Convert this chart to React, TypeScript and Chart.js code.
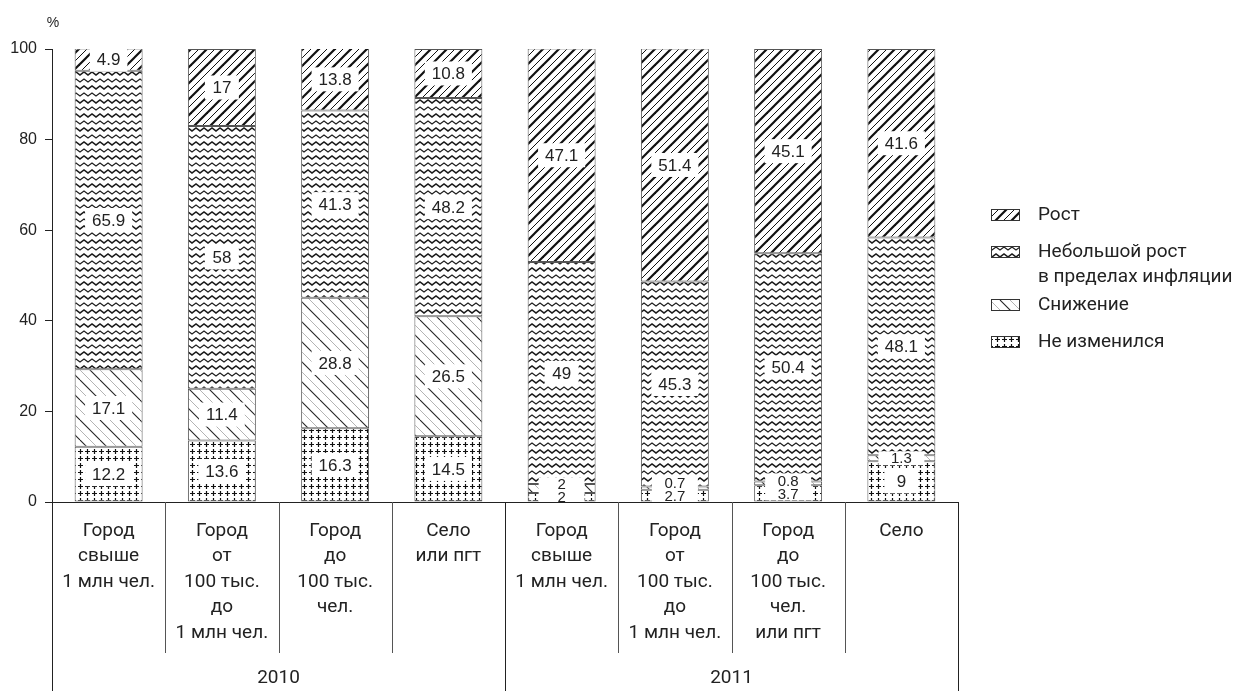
import { useEffect, useRef } from "react";
import { Chart, registerables } from "chart.js";

Chart.register(...registerables);

// Settlement types, two survey years with four groups each
const categories: string[][] = [
  ["Город", "свыше", "1 млн чел."],
  ["Город", "от", "100 тыс.", "до", "1 млн чел."],
  ["Город", "до", "100 тыс.", "чел."],
  ["Село", "или пгт"],
  ["Город", "свыше", "1 млн чел."],
  ["Город", "от", "100 тыс.", "до", "1 млн чел."],
  ["Город", "до", "100 тыс.", "чел.", "или пгт"],
  ["Село"],
];
const years = ["2010", "2011"];
const groupsPerYear = 4;

// Shares, %, stacked from the bottom up
const unchanged = [12.2, 13.6, 16.3, 14.5, 2, 2.7, 3.7, 9];
const decline = [17.1, 11.4, 28.8, 26.5, 2, 0.7, 0.8, 1.3];
const slightGrowth = [65.9, 58, 41.3, 48.2, 49, 45.3, 50.4, 48.1];
const growth = [4.9, 17, 13.8, 10.8, 47.1, 51.4, 45.1, 41.6];

const seriesNames = ["Не изменился", "Снижение", "Небольшой рост в пределах инфляции", "Рост"];
const legendLines: string[][] = [
  ["Рост"],
  ["Небольшой рост", "в пределах инфляции"],
  ["Снижение"],
  ["Не изменился"],
];
const yTicks = [0, 20, 40, 60, 80, 100];
const unitLabel = "%";

const LABEL_FONT = "Roboto, 'Noto Sans', sans-serif";
const NUM_FONT = "'Liberation Sans', Arial, sans-serif";
const INK = "#222";

function makeTile(w: number, h: number, draw: (c: CanvasRenderingContext2D) => void): CanvasPattern {
  const cv = document.createElement("canvas");
  cv.width = w;
  cv.height = h;
  const c = cv.getContext("2d")!;
  c.fillStyle = "#fff";
  c.fillRect(0, 0, w, h);
  draw(c);
  return c.createPattern(cv, "repeat")!;
}

function buildPatterns() {
  // "/" hatching, thick and thin lines alternating
  const growthPat = makeTile(16, 16, (c) => {
    c.strokeStyle = "#111";
    c.lineCap = "square";
    for (const [k, lw] of [[0, 2.2], [8, 1], [16, 2.2], [24, 1], [32, 2.2]] as [number, number][]) {
      c.lineWidth = lw;
      c.beginPath();
      c.moveTo(k - 16, 16);
      c.lineTo(k, 0);
      c.stroke();
    }
  });
  // zigzag rows, a heavier and a lighter one in turn
  const zigPat = makeTile(8, 14, (c) => {
    c.strokeStyle = "#1a1a1a";
    for (const [off, lw] of [[0, 1.5], [7, 1.1]] as [number, number][]) {
      c.lineWidth = lw;
      c.beginPath();
      c.moveTo(-4, 2 + off);
      c.lineTo(0, 5 + off);
      c.lineTo(4, 2 + off);
      c.lineTo(8, 5 + off);
      c.lineTo(12, 2 + off);
      c.stroke();
    }
  });
  // "\" hatching, dark and grey alternating
  const declinePat = makeTile(20, 20, (c) => {
    for (const [k, lw, col] of [[-20, 1.1, "#222"], [-10, 0.9, "#aaa"], [0, 1.1, "#222"], [10, 0.9, "#aaa"], [20, 1.1, "#222"]] as [number, number, string][]) {
      c.strokeStyle = col;
      c.lineWidth = lw;
      c.beginPath();
      c.moveTo(k, 0);
      c.lineTo(k + 20, 20);
      c.stroke();
    }
  });
  // small crosses
  const crossPat = makeTile(7, 7, (c) => {
    c.strokeStyle = "#111";
    c.lineWidth = 1.2;
    c.beginPath();
    c.moveTo(1, 3.5);
    c.lineTo(6, 3.5);
    c.moveTo(3.5, 1);
    c.lineTo(3.5, 6);
    c.stroke();
  });
  return { growthPat, zigPat, declinePat, crossPat };
}

export default function App() {
  const ref = useRef<HTMLCanvasElement | null>(null);

  useEffect(() => {
    document.body.style.margin = "0";
    const canvas = ref.current;
    if (!canvas) return;
    const { growthPat, zigPat, declinePat, crossPat } = buildPatterns();
    const series = [unchanged, decline, slightGrowth, growth];
    const fills = [crossPat, declinePat, zigPat, growthPat];
    const legendFills = [growthPat, zigPat, declinePat, crossPat];

    const valueLabels = {
      id: "valueLabels",
      afterDatasetsDraw(chart: any) {
        const ctx: CanvasRenderingContext2D = chart.ctx;
        const a = chart.chartArea;
        const items: { x: number; y: number; txt: string; size: number; bw: number; bh: number }[] = [];
        const n = chart.data.labels.length;
        for (let i = 0; i < n; i++) {
          let prevY = Infinity;
          chart.data.datasets.forEach((ds: any, di: number) => {
            const bar: any = chart.getDatasetMeta(di).data[i];
            const v = ds.data[i] as number;
            const small = Math.abs(bar.base - bar.y) < 20;
            const size = small ? 15 : 17;
            ctx.font = `${size}px ${NUM_FONT}`;
            const txt = String(v);
            const tw = ctx.measureText(txt).width;
            let y = (bar.y + bar.base) / 2;
            // keep tiny neighbouring numbers from running into each other
            if (prevY - y < 13) y = prevY - 13;
            prevY = y;
            items.push({
              x: bar.x,
              y,
              txt,
              size,
              bw: small ? 46 : Math.max(tw + 14, 34),
              bh: small ? 14 : 24,
            });
          });
        }
        ctx.save();
        ctx.beginPath();
        ctx.rect(a.left, a.top, a.right - a.left, a.bottom - a.top);
        ctx.clip();
        // white plates first, then the numbers, so stacked small plates never hide a number
        ctx.fillStyle = "#fff";
        items.forEach((it) => ctx.fillRect(it.x - it.bw / 2, it.y - it.bh / 2, it.bw, it.bh));
        ctx.fillStyle = INK;
        ctx.textAlign = "center";
        ctx.textBaseline = "middle";
        items.forEach((it) => {
          ctx.font = `${it.size}px ${NUM_FONT}`;
          ctx.fillText(it.txt, it.x, it.y + 1);
        });
        ctx.restore();
      },
    };

    const axisDecor = {
      id: "axisDecor",
      afterDraw(chart: any) {
        const ctx: CanvasRenderingContext2D = chart.ctx;
        const xs = chart.scales.x;
        const a = chart.chartArea;
        const n = categories.length;
        const step = xs.getPixelForValue(1) - xs.getPixelForValue(0);
        const H = chart.height;
        ctx.save();
        // separators between groups
        for (let i = 0; i <= n; i++) {
          const x = Math.round(xs.getPixelForValue(0) - step / 2 + i * step) + 0.5;
          const full = i % groupsPerYear === 0;
          ctx.strokeStyle = full ? "#222" : "#555";
          ctx.lineWidth = 1;
          ctx.beginPath();
          ctx.moveTo(x, a.bottom);
          ctx.lineTo(x, full ? H : a.bottom + 151);
          ctx.stroke();
        }
        // category captions
        ctx.fillStyle = INK;
        ctx.textAlign = "center";
        ctx.textBaseline = "middle";
        ctx.font = `19px ${LABEL_FONT}`;
        categories.forEach((lines, i) => {
          const cx = xs.getPixelForValue(i);
          lines.forEach((ln, k) => ctx.fillText(ln, cx, a.bottom + 29 + k * 25.5));
        });
        // year captions
        years.forEach((yr, g) => {
          const x0 = xs.getPixelForValue(g * groupsPerYear) - step / 2;
          const cx = x0 + (step * groupsPerYear) / 2;
          ctx.fillText(yr, cx, H - 13);
        });
        // unit
        ctx.font = `14px ${NUM_FONT}`;
        ctx.fillText(unitLabel, a.left + 1, 23);

        // legend
        const lx = 991;
        const tx = 1038;
        const rows = [215, 252, 305, 342];
        ctx.textAlign = "left";
        legendLines.forEach((lines, k) => {
          const y = rows[k];
          ctx.fillStyle = legendFills[k];
          ctx.fillRect(lx, y - 6, 29, 12);
          ctx.strokeStyle = "#333";
          ctx.lineWidth = 1;
          ctx.strokeRect(lx + 0.5, y - 5.5, 28, 11);
          ctx.fillStyle = INK;
          ctx.font = `19px ${LABEL_FONT}`;
          lines.forEach((ln, j) => ctx.fillText(ln, tx, y + j * 25));
        });
        ctx.restore();
      },
    };

    const chart = new Chart(canvas, {
      type: "bar",
      data: {
        labels: categories,
        datasets: series.map((d, i) => ({
          label: seriesNames[i],
          data: d,
          backgroundColor: fills[i],
          borderColor: "#555",
          borderWidth: 1,
          borderSkipped: false,
          barPercentage: 0.6,
          categoryPercentage: 1,
        })),
      },
      options: {
        animation: false,
        responsive: true,
        maintainAspectRatio: false,
        layout: { padding: { top: 49, right: 281, left: 0, bottom: 0 } },
        plugins: {
          legend: { display: false },
          tooltip: { enabled: false },
        },
        scales: {
          x: {
            stacked: true,
            grid: { display: false },
            border: { display: true, color: "#222", width: 1 },
            ticks: { display: false },
            afterFit: (s: any) => {
              s.height = 189;
            },
          },
          y: {
            stacked: true,
            min: 0,
            max: 100,
            afterBuildTicks: (s: any) => {
              s.ticks = yTicks.map((v) => ({ value: v }));
            },
            grid: { drawOnChartArea: false, drawTicks: true, tickLength: 7, color: "#222" },
            border: { display: true, color: "#222", width: 1 },
            ticks: {
              padding: 8,
              color: INK,
              font: { size: 16, family: NUM_FONT },
            },
            afterFit: (s: any) => {
              s.width = 52;
            },
          },
        },
      },
      plugins: [valueLabels, axisDecor],
    });
    return () => chart.destroy();
  }, []);

  return (
    <div style={{ width: 1239, height: 691, position: "relative", background: "#fff" }}>
      <canvas ref={ref} />
    </div>
  );
}
